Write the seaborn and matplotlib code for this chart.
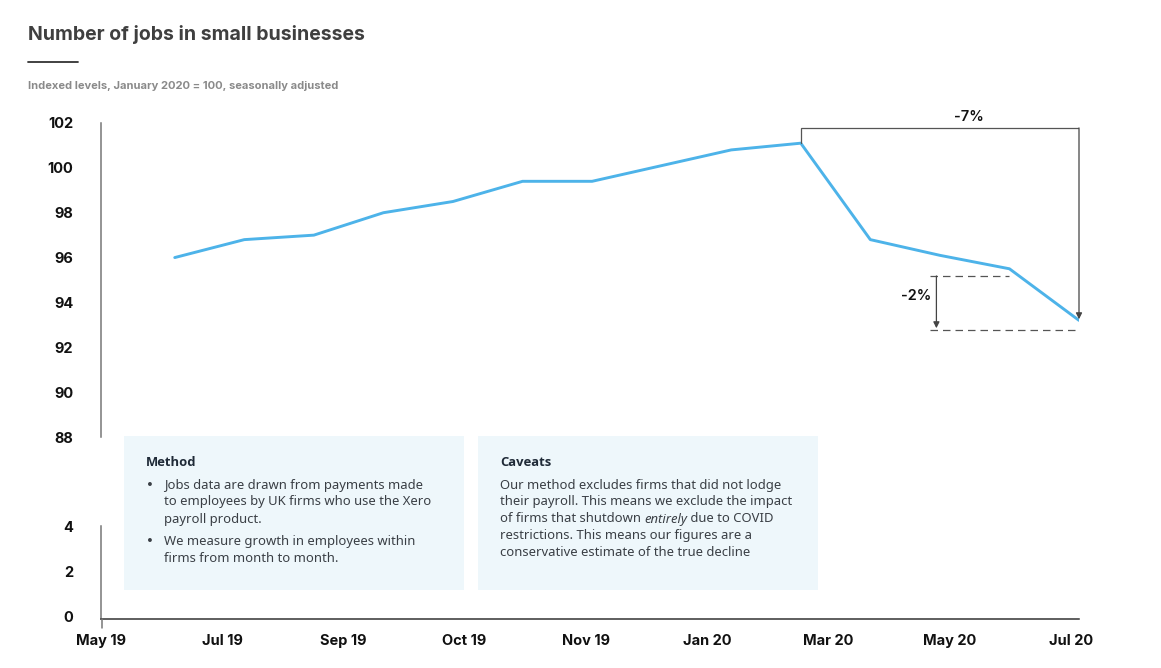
import numpy as np
import pandas as pd
import matplotlib
matplotlib.use("Agg")
import matplotlib.pyplot as plt
import seaborn as sns
from matplotlib.patches import Rectangle
from matplotlib.lines import Line2D

# ---- data ----
months = ["Jun 19", "Jul 19", "Aug 19", "Sep 19", "Oct 19", "Nov 19", "Dec 19",
          "Jan 20", "Feb 20", "Mar 20", "Apr 20", "May 20", "Jun 20", "Jul 20"]
jobs_index = [96.0, 96.8, 97.0, 98.0, 98.5, 99.4, 99.4,
              100.1, 100.8, 101.1, 96.8, 96.1, 95.5, 93.2]
tick_labels = ["May 19", "Jul 19", "Sep 19", "Oct 19", "Nov 19",
               "Jan 20", "Mar 20", "May 20", "Jul 20"]
top_yticks = [88, 90, 92, 94, 96, 98, 100, 102]
bottom_yticks = [0, 2, 4]

df = pd.DataFrame({"month": months, "idx": np.arange(len(months)), "value": jobs_index})

sns.set_theme(style="white")
plt.rcParams["font.family"] = ["Inter", "DejaVu Sans"]

W, H = 1161, 668
fig = plt.figure(figsize=(W / 100, H / 100), dpi=100)

def fx(p):
    return p / W

def fy(p):
    return 1 - p / H

XMIN, XMAX = -1.06, 13.0
LINE_C = "#4DB3E9"
TICK_FONT = dict(fontsize=10.5, fontweight="bold", color="#111111", family=["Inter", "DejaVu Sans"])

# top axes: 102 at y=123, 88 at y=437
ax = fig.add_axes([fx(101), fy(437), fx(1079) - fx(101), (437 - 123) / H])
sns.lineplot(data=df, x="idx", y="value", ax=ax, color=LINE_C, linewidth=2.1)
ax.set_xlim(XMIN, XMAX)
ax.set_ylim(88, 102)
ax.set_yticks(top_yticks)
ax.set_yticklabels([str(t) for t in top_yticks], **TICK_FONT)
ax.set_xticks([])
ax.set_xlabel("")
ax.set_ylabel("")
for s in ["top", "right", "bottom"]:
    ax.spines[s].set_visible(False)
ax.spines["left"].set_color("#777777")
ax.spines["left"].set_linewidth(1.1)
ax.tick_params(axis="y", length=0, pad=20)

# bottom axes: 4 at y=526, 0 at y=617
ax2 = fig.add_axes([fx(101), fy(619), fx(1079) - fx(101), (619 - 526) / H])
ax2.set_xlim(XMIN, XMAX)
ax2.set_ylim(-0.09, 4)
ax2.set_yticks(bottom_yticks)
ax2.set_yticklabels([str(t) for t in bottom_yticks], **TICK_FONT)
ticks_pos = np.linspace(-1.08, 12.88, len(tick_labels))
ax2.set_xticks(ticks_pos)
ax2.set_xticklabels(tick_labels, **TICK_FONT)
ax2.tick_params(axis="x", length=0, pad=11)
ax2.tick_params(axis="y", length=0, pad=20)
for s in ["top", "right"]:
    ax2.spines[s].set_visible(False)
ax2.spines["left"].set_color("#777777")
ax2.spines["left"].set_linewidth(1.1)
ax2.spines["bottom"].set_color("#333333")
ax2.spines["bottom"].set_linewidth(1.1)
ax2.set_facecolor("none")
ax.set_facecolor("none")
fig.add_artist(Line2D([fx(101.5), fx(101.5)], [fy(619), fy(628)], color="#777777", lw=1.1))

# ---- annotations ----
ann_c = "#555555"
ax.plot([9, 9, 13], [101.1, 101.78, 101.78], color=ann_c, lw=0.9, solid_joinstyle="miter")
ax.annotate("", xy=(13, 93.25), xytext=(13, 101.78),
            arrowprops=dict(arrowstyle="-|>", color="#444444", lw=0.9, mutation_scale=9,
                            shrinkA=0, shrinkB=0))
ax.text(11.42, 102.27, "-7%", ha="center", va="center", fontsize=10.5, color="#111111",
        clip_on=False, family=["Inter", "DejaVu Sans"], fontweight="semibold")
ax.plot([10.86, 12.0], [95.18, 95.18], color="#555555", lw=0.9, ls=(0, (6, 4)))
ax.plot([10.86, 12.94], [92.77, 92.77], color="#555555", lw=0.9, ls=(0, (6, 4)))
ax.annotate("", xy=(10.95, 92.85), xytext=(10.95, 95.18),
            arrowprops=dict(arrowstyle="-|>", color="#444444", lw=0.9, mutation_scale=9,
                            shrinkA=0, shrinkB=0))
ax.text(10.66, 94.29, "-2%", ha="center", va="center", fontsize=10.5, color="#111111",
        family=["Inter", "DejaVu Sans"], fontweight="semibold")

# ---- title block ----
fig.text(fx(28), fy(35), "Number of jobs in small businesses", fontsize=14,
         fontweight="bold", color="#3f3f3f", va="center", ha="left",
         family=["Inter", "DejaVu Sans"])
fig.add_artist(Line2D([fx(28), fx(78)], [fy(61.5), fy(61.5)], color="#333333", lw=1.3))
fig.text(fx(28), fy(86), "Indexed levels, January 2020 = 100, seasonally adjusted",
         fontsize=8, fontweight="bold", color="#8a8a8a", va="center", ha="left",
         family=["Inter", "DejaVu Sans"])

# ---- info boxes ----
box_c = "#EEF7FB"
for x0, x1 in [(124, 464), (478, 818)]:
    fig.add_artist(Rectangle((fx(x0), fy(590)), fx(x1) - fx(x0), (590 - 436) / H,
                             facecolor=box_c, edgecolor="none", zorder=0))

body_font = ["Noto Sans", "DejaVu Sans"]
head_font = ["Open Sans", "DejaVu Sans"]
head_c = "#1f2a37"
body_c = "#3a3f45"
bs = 9.4

fig.text(fx(146), fy(462), "Method", fontsize=bs, fontweight="bold", color=head_c,
         va="center", family=head_font)
method_lines = [(485, True, "Jobs data are drawn from payments made"),
                (502, False, "to employees by UK firms who use the Xero"),
                (519, False, "payroll product."),
                (541, True, "We measure growth in employees within"),
                (558, False, "firms from month to month.")]
for y, bullet, s in method_lines:
    if bullet:
        fig.text(fx(150), fy(y), "•", fontsize=9.5, color=body_c, va="center",
                 ha="center", family=["DejaVu Sans"])
    fig.text(fx(164), fy(y), s, fontsize=bs, color=body_c, va="center", family=body_font)

fig.text(fx(500), fy(462), "Caveats", fontsize=bs, fontweight="bold", color=head_c,
         va="center", family=head_font)
cav = [(485, "Our method excludes firms that did not lodge"),
       (502, "their payroll. This means we exclude the impact"),
       (536, "restrictions. This means our figures are a"),
       (553, "conservative estimate of the true decline")]
for y, s in cav:
    fig.text(fx(500), fy(y), s, fontsize=bs, color=body_c, va="center", family=body_font)
t1 = fig.text(fx(500), fy(519), "of firms that shutdown ", fontsize=bs, color=body_c,
              va="center", family=body_font)
a2 = plt.annotate("entirely", xy=(1, 0), xycoords=t1, va="bottom", ha="left",
                  fontsize=bs, color=body_c, style="italic", family=body_font,
                  annotation_clip=False)
plt.annotate(" due to COVID", xy=(1, 0), xycoords=a2, va="bottom", ha="left",
             fontsize=bs, color=body_c, family=body_font, annotation_clip=False)

fig.savefig("out.png", dpi=100)
